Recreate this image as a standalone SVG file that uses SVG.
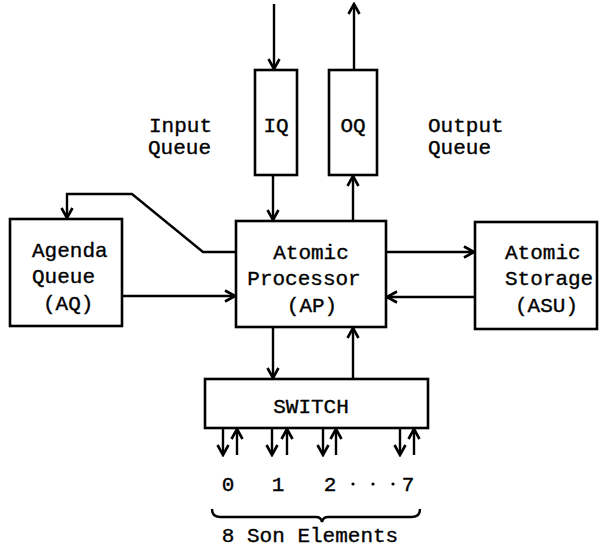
<svg xmlns="http://www.w3.org/2000/svg" width="600" height="547" viewBox="0 0 600 547">
<defs>
<marker id="ah" markerUnits="userSpaceOnUse" markerWidth="14" markerHeight="14" viewBox="0 0 14 14" refX="12" refY="7" orient="auto">
<path d="M2,1.5 L12,7 L2,12.5" fill="none" stroke="#000" stroke-width="2.6" stroke-linejoin="miter"/>
</marker>
</defs>
<style>
.box{fill:#fff;stroke:#000;stroke-width:2.6}
.ln{fill:none;stroke:#000;stroke-width:2.4}
.ar{fill:none;stroke:#000;stroke-width:2.4;marker-end:url(#ah)}
text{font-family:"Liberation Mono","DejaVu Sans Mono",monospace;font-size:21px;fill:#000;stroke:#000;stroke-width:0.35px}
.c{text-anchor:middle}
</style>
<rect width="600" height="547" fill="#fff"/>
<g id="connectors">
<line class="ar" x1="274" y1="4" x2="274" y2="69"/>
<line class="ar" x1="354" y1="70" x2="354" y2="4"/>
<line class="ar" x1="273" y1="175" x2="273" y2="220"/>
<line class="ar" x1="353" y1="221" x2="353" y2="176"/>
<line class="ar" x1="386" y1="252" x2="474" y2="252"/>
<line class="ar" x1="475" y1="297" x2="387" y2="297"/>
<line class="ar" x1="122" y1="296" x2="235" y2="296"/>
<polyline class="ar" points="236,252 203,252 132,194 67,194 67,218"/>
<line class="ar" x1="273" y1="327" x2="273" y2="378"/>
<line class="ar" x1="353" y1="379" x2="353" y2="328"/>
<line class="ar" x1="223" y1="428" x2="223" y2="455"/>
<line class="ar" x1="237" y1="455" x2="237" y2="429"/>
<line class="ar" x1="272" y1="428" x2="272" y2="455"/>
<line class="ar" x1="287" y1="455" x2="287" y2="429"/>
<line class="ar" x1="323" y1="428" x2="323" y2="455"/>
<line class="ar" x1="336" y1="455" x2="336" y2="429"/>
<line class="ar" x1="400" y1="428" x2="400" y2="455"/>
<line class="ar" x1="414" y1="455" x2="414" y2="429"/>
</g>
<g id="IQ">
<rect class="box" x="255" y="70" width="42" height="105"/>
<text class="c" x="276" y="132">IQ</text>
</g>
<g id="OQ">
<rect class="box" x="329" y="70" width="48" height="105"/>
<text class="c" x="353" y="132">OQ</text>
</g>
<g id="input-label">
<text x="149" y="132">Input</text>
<text x="148" y="154">Queue</text>
</g>
<g id="output-label">
<text x="428" y="132">Output</text>
<text x="428" y="154">Queue</text>
</g>
<g id="AQ">
<rect class="box" x="10" y="219" width="112" height="107"/>
<text x="32" y="257">Agenda</text>
<text x="32" y="283">Queue</text>
<text x="43" y="310">(AQ)</text>
</g>
<g id="AP">
<rect class="box" x="236" y="221" width="150" height="106"/>
<text class="c" x="311" y="259">Atomic</text>
<text class="c" x="304" y="285">Processor</text>
<text class="c" x="312" y="312">(AP)</text>
</g>
<g id="ASU">
<rect class="box" x="475" y="222" width="122" height="107"/>
<text x="505" y="259">Atomic</text>
<text x="505" y="285">Storage</text>
<text x="515" y="312">(ASU)</text>
</g>
<g id="SWITCH">
<rect class="box" x="205" y="379" width="223" height="49"/>
<text class="c" x="311" y="413">SWITCH</text>
</g>
<g id="sons">
<text class="c" x="228" y="491">0</text>
<text class="c" x="278" y="491">1</text>
<text class="c" x="330" y="491">2</text>
<circle cx="353" cy="484" r="1.6" fill="#000"/>
<circle cx="373" cy="484" r="1.6" fill="#000"/>
<circle cx="393" cy="484" r="1.6" fill="#000"/>
<text class="c" x="408" y="491">7</text>
<path class="ln" d="M212,509 Q212,517 220,517 L316,517 Q321,517 322,522 Q323,517 328,517 L412,517 Q420,517 420,509"/>
<text class="c" x="310" y="542">8 Son Elements</text>
</g>
</svg>
